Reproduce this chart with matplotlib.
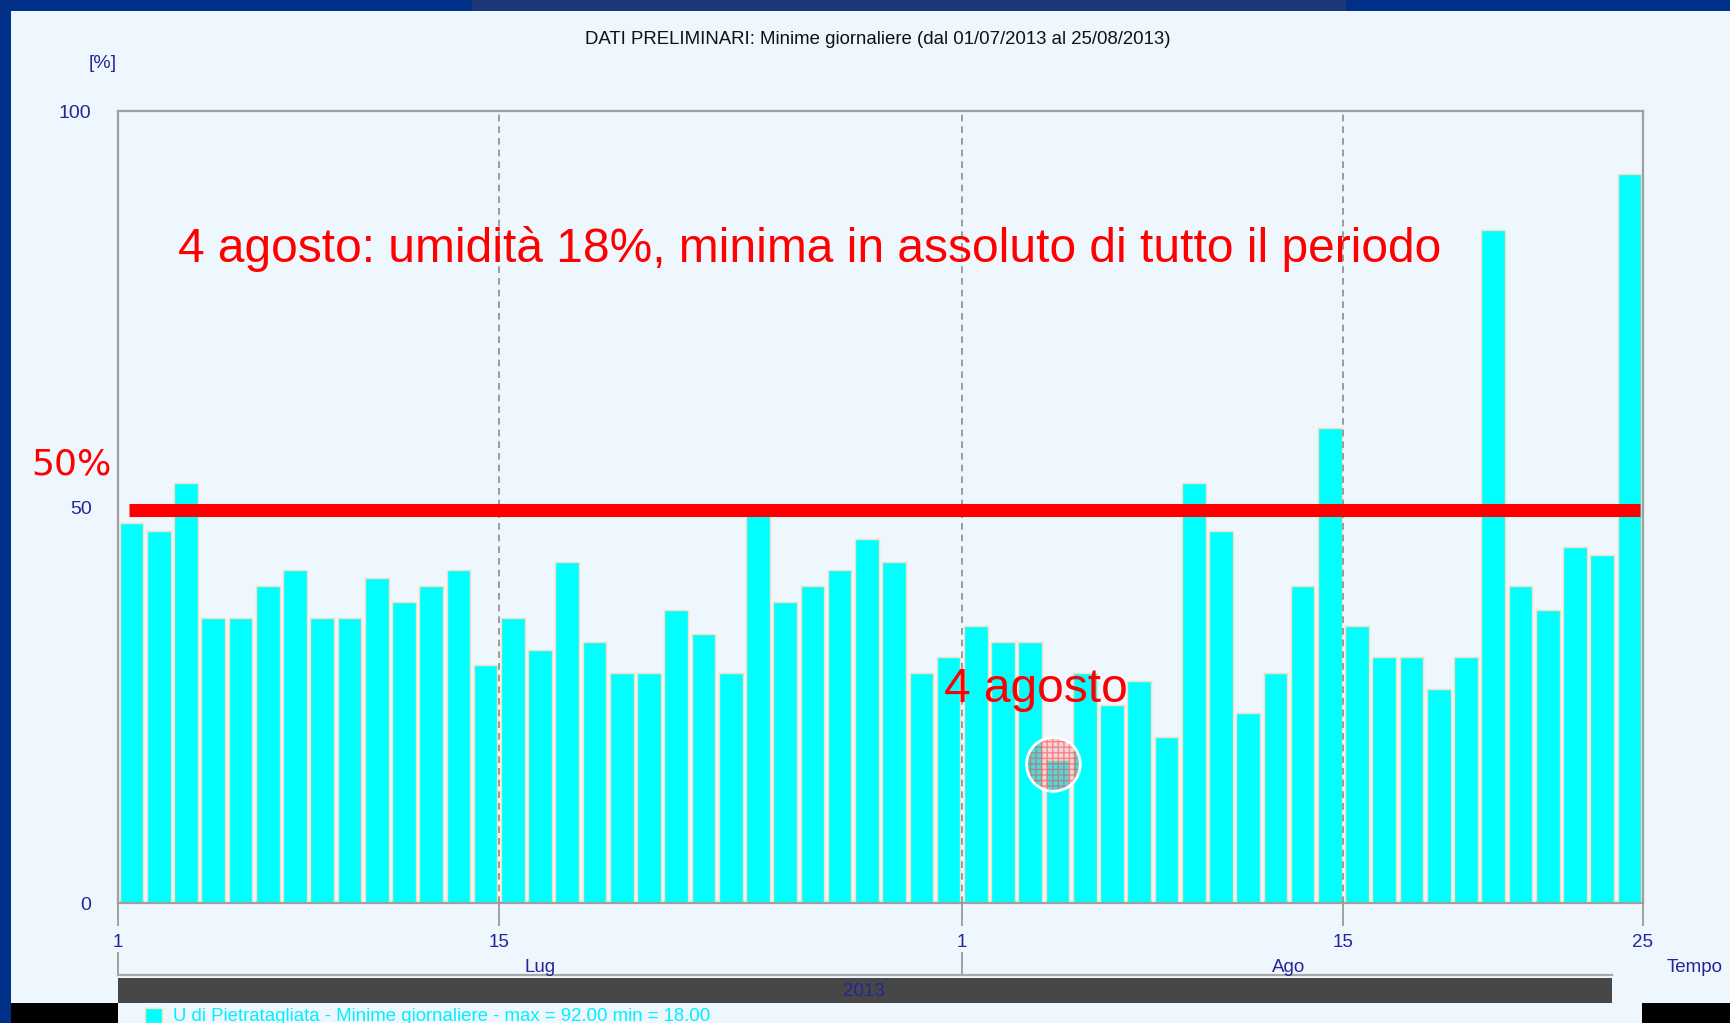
import matplotlib
matplotlib.use("Agg")
import matplotlib.pyplot as plt
from matplotlib.patches import Rectangle
from matplotlib.transforms import blended_transform_factory

plt.rcParams["font.family"] = ["Liberation Sans", "DejaVu Sans"]

# --- dati: minime giornaliere di umidità [%], 01/07/2013 - 25/08/2013
lug_vals = [48, 47, 53, 36, 36, 40, 42, 36, 36, 41, 38, 40, 42, 30, 36, 32,
            43, 33, 29, 29, 37, 34, 29, 50, 38, 40, 42, 46, 43, 29, 31]
ago_vals = [35, 33, 33, 18, 29, 25, 28, 21, 53, 47, 24, 29, 40, 60, 35, 31,
            31, 27, 31, 85, 40, 37, 45, 44, 92]
values = lug_vals + ago_vals
tick_pos = [0, 14, 31, 45, 56]
tick_labels = ["1", "15", "1", "15", "25"]
y_ticks = [0, 50, 100]
soglia = 50
min_day = 34  # 4 agosto

W, H = 1731, 1023
BG = "#EEF6FE"
NAVY = "#25259A"
GRID = "#8C8C8C"

fig = plt.figure(figsize=(W / 100, H / 100), dpi=100, facecolor=BG)


def box(x0, y0, x1, y1, color, z=0):
    # rettangolo in pixel (origine in alto a sinistra)
    fig.add_artist(Rectangle((x0 / W, 1 - y1 / H), (x1 - x0) / W, (y1 - y0) / H,
                             transform=fig.transFigure, color=color, lw=0, zorder=z))


# cornice esterna
box(0, 0, W, 11, "#003087")
box(472, 0, 1346, 11, "#1B3878")
box(0, 0, 11, H, "#003087")
box(11, 1003, 118, H, "#000000")
box(1642, 1003, W, H, "#000000")

ax_l, ax_r, ax_t, ax_b = 118, 1643, 111, 903
ax = fig.add_axes([ax_l / W, 1 - ax_b / H, (ax_r - ax_l) / W, (ax_b - ax_t) / H])
ax.set_facecolor(BG)
ax.set_xlim(0, len(values))
ax.set_ylim(0, 100)

x = [i + 0.5 for i in range(len(values))]
ax.bar(x, values, width=0.87, color="#00FFFF", edgecolor="#F0E0C4", linewidth=1, zorder=2)

for xv in [14, 31, 45]:
    ax.axvline(xv, color=GRID, lw=1.2, ls=(0, (4, 3)), zorder=3)

for s in ax.spines.values():
    s.set_color("#A0A0A0")
    s.set_linewidth(1.6)

ax.set_yticks(y_ticks)
ax.set_yticklabels([str(v) for v in y_ticks])
ax.tick_params(axis="y", length=0, pad=19, labelsize=14, labelcolor=NAVY)
ax.set_yticks([soglia], minor=True)
ax.tick_params(axis="y", which="minor", length=17, width=1.4, color="#A0A0A0")
ax.set_xticks(tick_pos)
ax.set_xticklabels(tick_labels)
ax.tick_params(axis="x", length=16.5, width=1.4, color="#A0A0A0", pad=5.5,
               labelsize=13.5, labelcolor=NAVY)


def ay(py):
    return (ax_b - py) / (ax_b - ax_t)


tr = ax.get_xaxis_transform()
for xv in [0, 31]:
    ax.plot([xv, xv], [ay(953), ay(975)], color="#A0A0A0", lw=1.4, transform=tr, clip_on=False)
ax.plot([0, 54.87], [ay(975), ay(975)], color="#A8A8A8", lw=1.6, transform=tr, clip_on=False)
ax.add_patch(Rectangle((0, ay(1003)), 54.87, ay(978) - ay(1003), transform=tr,
                       color="#474747", lw=0, clip_on=False))
ax.text(15.5, ay(968), "Lug", transform=tr, ha="center", va="center", fontsize=13.5, color=NAVY)
ax.text(43.0, ay(968), "Ago", transform=tr, ha="center", va="center", fontsize=13.5, color=NAVY)
ax.text(27.4, ay(991), "2013", transform=tr, ha="center", va="center", fontsize=13.5, color=NAVY)

# testi fuori dal grafico
fig.text(878 / W, 1 - 39 / H, "DATI PRELIMINARI: Minime giornaliere (dal 01/07/2013 al 25/08/2013)",
         ha="center", va="center", fontsize=13.4, color="#111111")
fig.text(103 / W, 1 - 64 / H, "[%]", ha="center", va="center", fontsize=14, color=NAVY)
fig.text(1695 / W, 1 - 967 / H, "Tempo", ha="center", va="center", fontsize=13.5, color=NAVY)

# legenda
fig.add_artist(Rectangle((145 / W, 1 - 1023 / H), 17 / W, 15 / H, transform=fig.transFigure,
                         facecolor="#00FFFF", edgecolor="#F0E0C4", lw=1))
fig.text(173 / W, 1 - 1008 / H,
         "U di Pietratagliata - Minime giornaliere - max = %.2f min = %.2f" % (max(values), min(values)),
         ha="left", va="top", fontsize=13.4, color="#00F0FF")

# annotazioni in rosso
ax.hlines(49.6, 0.4, 55.9, color="#FF0000", lw=9.4, zorder=5, capstyle="butt")
ax.text(2.2, 82.6, "4 agosto: umidità 18%, minima in assoluto di tutto il periodo",
        ha="left", va="center", fontsize=34.5, color="#FF0000", zorder=6)
ax.text(30.35, 26.9, "4 agosto", ha="left", va="center", fontsize=34.5, color="#FF0000", zorder=6)
ax.text(-0.057, 55.4, "50%", transform=blended_transform_factory(ax.transAxes, ax.transData),
        ha="left", va="center", fontsize=26, color="#FF0000", family="DejaVu Sans")

mx, my = x[min_day] - 0.15, values[min_day] - 0.5
ax.scatter([mx], [my], s=1500, marker="o", facecolor=(1, 0.55, 0.55, 0.3),
           edgecolor=(1, 0.25, 0.25, 0.55), hatch="+++", linewidth=0, zorder=7)
ax.scatter([mx], [my], s=1500, marker="o", facecolor="none", edgecolor="white",
           linewidth=2, zorder=8)

fig.savefig("out.png", dpi=100, facecolor=BG)
